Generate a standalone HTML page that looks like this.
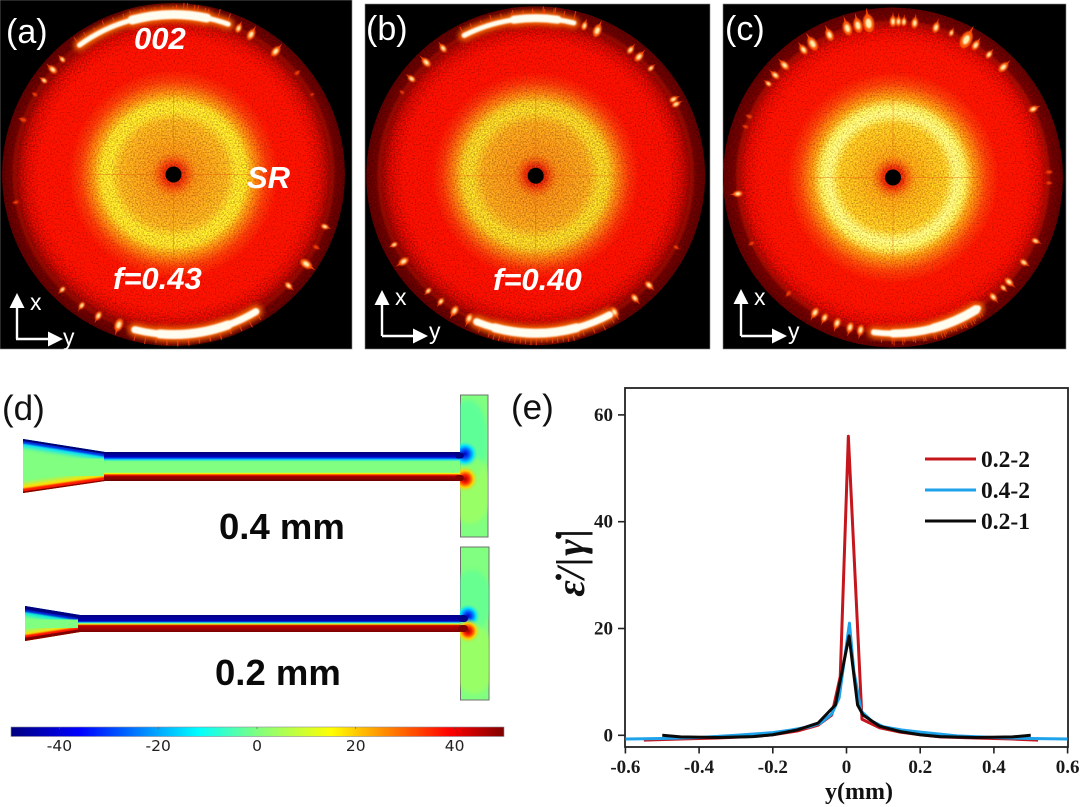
<!DOCTYPE html>
<html lang="en">
<head>
<meta charset="utf-8">
<title>Diffraction patterns and extension-rate chart</title>
<style>
html,body{margin:0;padding:0;background:#fff;}
svg{display:block;}
.lbl{font-family:"Liberation Sans",sans-serif;fill:#fff;}
.big{font-family:"Liberation Sans",sans-serif;font-size:34px;fill:#111;}
.note{font-family:"Liberation Sans",sans-serif;font-size:31px;font-weight:bold;font-style:italic;fill:#fff;}
.mm{font-family:"Liberation Sans",sans-serif;font-size:36.5px;font-weight:bold;fill:#0a0a0a;}
.cb{font-family:"DejaVu Sans",sans-serif;font-size:15.5px;fill:#222;text-anchor:middle;}
.tk{font-family:"Liberation Serif",serif;font-size:19px;font-weight:bold;fill:#1a1a1a;}
.leg{font-family:"Liberation Serif",serif;font-size:23.5px;font-weight:bold;fill:#111;}
</style>
</head>
<body>
<svg id="fig" width="1080" height="807" viewBox="0 0 1080 807" xmlns="http://www.w3.org/2000/svg">
<defs>
<radialGradient id="disc-a">
<stop offset="0" stop-color="#c02000"/><stop offset=".06" stop-color="#e03008"/><stop offset=".09" stop-color="#f05c0c"/><stop offset=".13" stop-color="#f08a14"/><stop offset=".22" stop-color="#f09a18"/><stop offset=".31" stop-color="#f2a81c"/><stop offset=".37" stop-color="#f6d428"/><stop offset=".42" stop-color="#f6d024"/><stop offset=".47" stop-color="#f88a10"/><stop offset=".54" stop-color="#fa3806"/><stop offset=".61" stop-color="#fb1200"/><stop offset=".78" stop-color="#f61000"/><stop offset=".86" stop-color="#cc0a00"/><stop offset=".9" stop-color="#a00600"/><stop offset=".93" stop-color="#700000"/><stop offset="1" stop-color="#580000"/>
</radialGradient>
<radialGradient id="disc-b">
<stop offset="0" stop-color="#c02000"/><stop offset=".06" stop-color="#d82808"/><stop offset=".09" stop-color="#e85a0c"/><stop offset=".13" stop-color="#ec8414"/><stop offset=".22" stop-color="#ec9018"/><stop offset=".31" stop-color="#ee9c1a"/><stop offset=".38" stop-color="#eec824"/><stop offset=".43" stop-color="#ecbe20"/><stop offset=".48" stop-color="#f47c10"/><stop offset=".55" stop-color="#f63006"/><stop offset=".61" stop-color="#f81000"/><stop offset=".78" stop-color="#f00e00"/><stop offset=".86" stop-color="#c40800"/><stop offset=".9" stop-color="#980400"/><stop offset=".93" stop-color="#6c0000"/><stop offset="1" stop-color="#580000"/>
</radialGradient>
<radialGradient id="disc-c">
<stop offset="0" stop-color="#c02000"/><stop offset=".06" stop-color="#e02c08"/><stop offset=".09" stop-color="#f0680c"/><stop offset=".13" stop-color="#f49a14"/><stop offset=".22" stop-color="#f6ae18"/><stop offset=".31" stop-color="#f8bc20"/><stop offset=".375" stop-color="#fff078"/><stop offset=".42" stop-color="#fce458"/><stop offset=".47" stop-color="#fa9612"/><stop offset=".55" stop-color="#fc3c06"/><stop offset=".62" stop-color="#fc1400"/><stop offset=".78" stop-color="#f81000"/><stop offset=".86" stop-color="#d40a00"/><stop offset=".9" stop-color="#a80500"/><stop offset=".93" stop-color="#700000"/><stop offset="1" stop-color="#5a0000"/>
</radialGradient>
<filter id="grain" x="0" y="0" width="100%" height="100%" color-interpolation-filters="sRGB">
<feTurbulence type="fractalNoise" baseFrequency="0.65" numOctaves="2" seed="4" result="n"/>
<feColorMatrix in="n" type="matrix" values="0 1.5 0 0 -0.25  0 1.5 0 0 -0.25  0 1.5 0 0 -0.25  0 0 0 0 1" result="g"/>
<feComposite in="SourceGraphic" in2="g" operator="arithmetic" k1="0.62" k2="0.72" k3="0" k4="0" result="mix"/>
<feComposite in="mix" in2="SourceAlpha" operator="in"/>
</filter>
<filter id="soft" x="-40%" y="-40%" width="180%" height="180%" color-interpolation-filters="sRGB"><feGaussianBlur stdDeviation="0.8"/></filter>
<filter id="glow" x="-30%" y="-30%" width="160%" height="160%" color-interpolation-filters="sRGB"><feGaussianBlur stdDeviation="2.6"/></filter>
<filter id="edge" x="-40%" y="-40%" width="180%" height="180%" color-interpolation-filters="sRGB"><feGaussianBlur stdDeviation="2"/></filter>

<linearGradient id="jet" x1="0" x2="1" y1="0" y2="0">
<stop offset="0" stop-color="#00007f"/><stop offset=".14" stop-color="#0000ff"/><stop offset=".38" stop-color="#00ffff"/><stop offset=".5" stop-color="#80ff80"/><stop offset=".65" stop-color="#ffff00"/><stop offset=".89" stop-color="#ff0000"/><stop offset="1" stop-color="#7f0000"/>
</linearGradient>
<linearGradient id="ch-wide" x1="0" x2="0" y1="0" y2="1">
<stop offset="0" stop-color="#000070"/><stop offset=".17" stop-color="#0000c0"/><stop offset=".22" stop-color="#0060ff"/><stop offset=".27" stop-color="#20e8e0"/><stop offset=".33" stop-color="#80ff80"/><stop offset=".7" stop-color="#80ff80"/><stop offset=".745" stop-color="#ffff00"/><stop offset=".79" stop-color="#ff2000"/><stop offset=".84" stop-color="#a00000"/><stop offset="1" stop-color="#6c0000"/>
</linearGradient>
<linearGradient id="ch-narrow" x1="0" x2="0" y1="0" y2="1">
<stop offset="0" stop-color="#000088"/><stop offset=".36" stop-color="#0000b0"/><stop offset=".42" stop-color="#0090ff"/><stop offset=".47" stop-color="#60f0b0"/><stop offset=".52" stop-color="#c0ff40"/><stop offset=".56" stop-color="#ffb000"/><stop offset=".62" stop-color="#c00000"/><stop offset="1" stop-color="#7c0000"/>
</linearGradient>
<radialGradient id="blob-blue"><stop offset="0" stop-color="#0000c0"/><stop offset=".3" stop-color="#0050ff"/><stop offset=".6" stop-color="#00e0ff"/><stop offset="1" stop-color="#80ff80" stop-opacity="0"/></radialGradient>
<radialGradient id="blob-red"><stop offset="0" stop-color="#a00000"/><stop offset=".3" stop-color="#ff2000"/><stop offset=".6" stop-color="#ffd000"/><stop offset="1" stop-color="#80ff80" stop-opacity="0"/></radialGradient>
<clipPath id="funnel-top"><polygon points="23,439 105,452 105,481 23,493"/></clipPath>
<clipPath id="funnel-bot"><polygon points="25,606 80,615 80,632 25,641"/></clipPath>
<clipPath id="t-top"><rect x="460" y="395" width="28" height="142"/></clipPath>
<clipPath id="t-bot"><rect x="460" y="547" width="29" height="153"/></clipPath>
</defs>

<!-- Diffraction panels -->
<g>
<rect x="0" y="0" width="352" height="349" fill="#000" stroke="#888" stroke-width="0.6"/>
<g id="art-a"></g>
<text class="lbl" x="6" y="43" font-size="34">(a)</text>
<text class="note" x="134" y="49">002</text>
<text class="note" x="247" y="188">SR</text>
<text class="note" x="113" y="289">f=0.43</text>
<g fill="#fff" stroke="none">
<path d="M17,339V306M16,339H50" stroke="#fff" stroke-width="2.4" fill="none"/>
<polygon points="17,293 9.5,308 24.5,308"/><polygon points="63,339 48,331.5 48,346.5"/>
<text class="lbl" x="30" y="310" font-size="23">x</text><text class="lbl" x="63" y="345" font-size="23">y</text>
</g>
</g>
<g>
<rect x="365" y="4" width="345" height="345" fill="#000" stroke="#888" stroke-width="0.6"/>
<g id="art-b"></g>
<text class="lbl" x="366" y="40" font-size="34">(b)</text>
<text class="note" x="493" y="290">f=0.40</text>
<g fill="#fff" stroke="none">
<path d="M382,336V304M382,336H415" stroke="#fff" stroke-width="2.4" fill="none"/>
<polygon points="382,290 374.5,305 389.5,305"/><polygon points="428,336 413,328.5 413,343.5"/>
<text class="lbl" x="395" y="305" font-size="23">x</text><text class="lbl" x="429" y="339" font-size="23">y</text>
</g>
</g>
<g>
<rect x="723" y="4" width="343" height="345" fill="#000" stroke="#888" stroke-width="0.6"/>
<g id="art-c"></g>
<text class="lbl" x="725" y="40" font-size="34">(c)</text>
<g fill="#fff" stroke="none">
<path d="M741,336V304M741,336H774" stroke="#fff" stroke-width="2.4" fill="none"/>
<polygon points="741,289 733.5,304 748.5,304"/><polygon points="787,336 772,328.5 772,343.5"/>
<text class="lbl" x="754" y="305" font-size="23">x</text><text class="lbl" x="788" y="339" font-size="23">y</text>
</g>
</g>

<!-- Panel d: simulation contours -->
<text class="big" x="2" y="420" style="font-size:35px">(d)</text>
<g>
<g clip-path="url(#funnel-top)">
<rect x="20" y="435" width="90" height="62" fill="#80ff80"/>
<line x1="20" y1="438.5" x2="108" y2="452.5" stroke="#00e0ff" stroke-width="16" filter="url(#edge)"/>
<line x1="20" y1="438.5" x2="108" y2="452.5" stroke="#0030e0" stroke-width="9" filter="url(#soft)"/>
<line x1="20" y1="438.5" x2="108" y2="452.5" stroke="#000070" stroke-width="4"/>
<line x1="20" y1="493.5" x2="108" y2="481" stroke="#ffe000" stroke-width="18" filter="url(#edge)"/>
<line x1="20" y1="493.5" x2="108" y2="481" stroke="#ff1800" stroke-width="9" filter="url(#soft)"/>
<line x1="20" y1="493.5" x2="108" y2="481" stroke="#800000" stroke-width="3"/>
</g>
<rect x="104" y="452" width="358" height="29" fill="url(#ch-wide)"/>
<rect x="460.5" y="395" width="27.5" height="142" fill="#80ff80" stroke="#707070"/>
<g clip-path="url(#t-top)">
<ellipse cx="468" cy="440" rx="20" ry="40" fill="#40ffb0" opacity=".5" filter="url(#edge)"/>
<ellipse cx="470" cy="490" rx="22" ry="34" fill="#b0ff50" opacity=".5" filter="url(#edge)"/>
<circle cx="465" cy="454" r="14" fill="url(#blob-blue)"/>
<circle cx="465" cy="479" r="14" fill="url(#blob-red)"/>
</g>
<rect x="455" y="452.5" width="9" height="6" rx="3" fill="#000088"/>
<rect x="455" y="475" width="9" height="6" rx="3" fill="#800000"/>
</g>
<text class="mm" x="219" y="539">0.4 mm</text>

<g>
<g clip-path="url(#funnel-bot)">
<rect x="22" y="602" width="60" height="42" fill="#80ff80"/>
<line x1="20" y1="605.5" x2="82" y2="615.5" stroke="#00e8e8" stroke-width="18" filter="url(#edge)"/>
<line x1="20" y1="605.5" x2="82" y2="615.5" stroke="#0020d0" stroke-width="11" filter="url(#soft)"/>
<line x1="20" y1="605.5" x2="82" y2="615.5" stroke="#000080" stroke-width="6"/>
<line x1="20" y1="641.5" x2="82" y2="632" stroke="#ffe000" stroke-width="18" filter="url(#edge)"/>
<line x1="20" y1="641.5" x2="82" y2="632" stroke="#ff1000" stroke-width="11" filter="url(#soft)"/>
<line x1="20" y1="641.5" x2="82" y2="632" stroke="#800000" stroke-width="6"/>
</g>
<rect x="78" y="615" width="385" height="17" fill="url(#ch-narrow)"/>
<rect x="460.5" y="547" width="28.5" height="153" fill="#80ff80" stroke="#707070"/>
<g clip-path="url(#t-bot)">
<ellipse cx="472" cy="600" rx="20" ry="30" fill="#50ffa0" opacity=".5" filter="url(#edge)"/>
<ellipse cx="474" cy="660" rx="22" ry="34" fill="#b0ff50" opacity=".5" filter="url(#edge)"/>
<circle cx="468" cy="616" r="13" fill="url(#blob-blue)"/>
<circle cx="468" cy="631" r="13" fill="url(#blob-red)"/>
</g>
<rect x="458" y="615" width="10" height="7" rx="3.5" fill="#000088"/>
<rect x="458" y="625" width="10" height="7" rx="3.5" fill="#800000"/>
</g>
<text class="mm" x="215" y="685">0.2 mm</text>

<g id="colorbar">
<rect x="11" y="727" width="493" height="9.5" fill="url(#jet)" stroke="#8a8a9a" stroke-width="0.6"/>
</g>

<!-- Panel e: chart -->
<text class="big" x="511" y="419" style="font-size:35px">(e)</text>
<g id="chart"></g>
<text id="ytitle" transform="translate(584,562) rotate(-90)" text-anchor="middle" style="font-family:'Liberation Serif',serif;font-size:40px;font-style:italic;font-weight:bold;fill:#111;letter-spacing:1.5px;">ε̇/|γ̇|</text>
<text x="859" y="799" text-anchor="middle" style="font-family:'Liberation Serif',serif;font-size:24px;font-weight:bold;fill:#111;">y(mm)</text>
</svg>

<script>
// ---- Chart data ----
const xTickValues = [-0.6,-0.4,-0.2,0,0.2,0.4,0.6];
const xTickLabels = ['-0.6','-0.4','-0.2','0','0.2','0.4','0.6'];
const yTickValues = [0,20,40,60];
const yTickLabels = ['0','20','40','60'];
const seriesNames = ['0.2-2','0.4-2','0.2-1'];
const redX = [-0.55,-0.45,-0.35,-0.25,-0.2,-0.134,-0.077,-0.04,-0.017,0.005,0.042,0.09,0.146,0.2,0.254,0.35,0.45,0.52];
const redY = [-0.9,-0.7,-0.5,-0.2,0.1,0.8,1.9,3.8,11,56,3,1.4,0.6,0.1,-0.3,-0.5,-0.7,-0.9];
const blueX = [-0.6,-0.5,-0.4,-0.3,-0.2,-0.15,-0.1,-0.07,-0.04,-0.02,0,0.008,0.02,0.04,0.07,0.1,0.15,0.2,0.3,0.4,0.5,0.6];
const blueY = [-0.7,-0.6,-0.4,0,0.5,1,1.6,2.3,4,7,17,21,12,4.5,2.6,1.6,1,0.6,-0.1,-0.4,-0.6,-0.7];
const blackX = [-0.5,-0.45,-0.35,-0.254,-0.2,-0.134,-0.077,-0.03,0.007,0.03,0.045,0.09,0.146,0.2,0.254,0.35,0.45,0.5];
const blackY = [0,-0.3,-0.4,-0.25,0.1,1,2.3,5.7,18.6,5.7,3.8,1.7,0.7,0.1,-0.25,-0.4,-0.3,0];
const colorbarTicks = [-40,-20,0,20,40];

const SVGNS = 'http://www.w3.org/2000/svg';
function mk(tag, attrs, parent){
  const e = document.createElementNS(SVGNS, tag);
  for (const k in attrs) e.setAttribute(k, attrs[k]);
  if (parent) parent.appendChild(e);
  return e;
}

// Colorbar ticks
const cbar = document.getElementById('colorbar');
const cbScale = v => 257 + v * 4.94;
colorbarTicks.forEach(v => {
  const t = mk('line', {x1:cbScale(v), x2:cbScale(v), y1:727, y2:729, stroke:'#555', 'stroke-width':0.6}, cbar);
  
  
  const l = mk('text', {x:cbScale(v), y:751, class:'cb'}, cbar);
  
  
  l.textContent = v;
});

// Chart
const chart = document.getElementById('chart');
const plot = {l:625, r:1068, t:388, b:747};
const xS = v => 846.5 + v * 368.5;
const yS = v => 735.3 - v * 5.34;
const frame = mk('rect', {x:plot.l, y:plot.t, width:plot.r-plot.l, height:plot.b-plot.t, fill:'none', stroke:'#222', 'stroke-width':1.8}, chart);


xTickValues.forEach((v,i) => {
  const t = mk('line', {x1:xS(v), x2:xS(v), y1:plot.b, y2:plot.b+6.5, stroke:'#222', 'stroke-width':1.6}, chart);
  
  
  const l = mk('text', {x:xS(v), y:773, class:'tk', 'text-anchor':'middle'}, chart);
  
  
  l.textContent = xTickLabels[i];
});
yTickValues.forEach((v,i) => {
  const t = mk('line', {x1:plot.l-7, x2:plot.l, y1:yS(v), y2:yS(v), stroke:'#222', 'stroke-width':1.6}, chart);
  
  
  const l = mk('text', {x:613, y:yS(v)+6, class:'tk', 'text-anchor':'end'}, chart);
  
  
  l.textContent = yTickLabels[i];
});
function linePath(xs, ys){
  return xs.map((x,i) => (i?'L':'M') + xS(x).toFixed(2) + ',' + yS(ys[i]).toFixed(2)).join(' ');
}
const redLine = mk('path', {d:linePath(redX,redY), fill:'none', stroke:'#c4161c', 'stroke-width':3, 'stroke-linejoin':'round'}, chart);


const blueLine = mk('path', {d:linePath(blueX,blueY), fill:'none', stroke:'#1ea2ea', 'stroke-width':3, 'stroke-linejoin':'round'}, chart);


const blackLine = mk('path', {d:linePath(blackX,blackY), fill:'none', stroke:'#0a0a0a', 'stroke-width':3, 'stroke-linejoin':'round'}, chart);


const legendColors = ['#c4161c','#1ea2ea','#0a0a0a'];
seriesNames.forEach((n,i) => {
  const ly = 459 + i * 31;
  const s = mk('line', {x1:925, x2:976, y1:ly, y2:ly, stroke:legendColors[i], 'stroke-width':3}, chart);
  
  
  const t = mk('text', {x:981, y:ly+8, class:'leg'}, chart);
  
  
  t.textContent = n;
});

// Diffraction panels: [angle clockwise from top, spot size]
const panelSpots = {
  a:[[39.7,3.2],[29,3.2],[24,2.6],[50.6,1.5],[60,1],[-70,1.8],[-49,2.8],[-54,2],[-44,2],[109,2.2],[124,3.6],[134,2.4],[117,1.6],[224,2],[215,2.2],[208,2.6],[200,3.6],[260,1.4],[-60,1.4]],
  b:[[23,3.6],[18,2.5],[37,2.5],[41,3],[47,2],[61,2.4],[63,2.4],[-36,2.6],[-44,3],[-52,2.4],[-58,1.2],[237,3],[244,2],[223,2],[217,2.2],[211,3],[117,1.4],[134,2.6],[141,2.6],[150,3],[205,3]],
  c:[[-9,5],[-13,4],[-17,4],[-24,3.4],[-31,4],[-35,3],[-44,3],[-49,2.6],[-53,2],[0,3],[2,2.6],[8,3],[4,2.4],[16,3],[22,2],[28,5],[32,3],[38,2.4],[45,3.2],[64,2.6],[264,2.6],[-67,1.6],[-71,1.4],[114,2.2],[123,2.4],[132,2.8],[135,2],[140,2.6],[210,3],[222,1.6],[245,1.4],[192,3],[196,3],[201,3],[206,2.6],[88,1.6],[92,1.4]]
};
// [start angle, end angle, stroke width]
const panelArcs = {
  a:[[-36,20,5],[-15,12,9],[149,194,7],[160,185,9]],
  b:[[-27,14,5],[-8,8,8],[152,202,7],[165,195,9]],
  c:[[147,187,6],[150,180,8],[148,165,9]]
};
const panelGeom = {
  a:{cx:173.5,cy:174.5,R:171.5,r:160},
  b:{cx:535.7,cy:175.7,R:169.5,r:157.5},
  c:{cx:893,cy:177.5,R:170,r:156}
};
function pol(g,a,r){
  const t = a*Math.PI/180;
  return [g.cx + r*Math.sin(t), g.cy - r*Math.cos(t)];
}
function arcD(g,a0,a1,r){
  const p0 = pol(g,a0,r), p1 = pol(g,a1,r);
  return 'M'+p0[0].toFixed(1)+','+p0[1].toFixed(1)+' A'+r+','+r+' 0 '+((a1-a0)>180?1:0)+' 1 '+p1[0].toFixed(1)+','+p1[1].toFixed(1);
}
['a','b','c'].forEach(k => {
  const g = panelGeom[k];
  const art = document.getElementById('art-'+k);
  const disc = mk('circle', {cx:g.cx, cy:g.cy, r:g.R, fill:'url(#disc-'+k+')', filter:'url(#grain)'}, art);
  
  
  const band = mk('circle', {cx:g.cx, cy:g.cy, r:g.r-1, fill:'none', stroke:'#b01400', 'stroke-width':4, opacity:.45, filter:'url(#soft)'}, art);
  
  
  const ch = mk('path', {d:'M'+(g.cx-88)+','+g.cy+'H'+(g.cx+88)+'M'+g.cx+','+(g.cy-88)+'V'+(g.cy+88), stroke:'#e85a10', 'stroke-width':1, opacity:.4, fill:'none'}, art);
  
  
  const glowG = mk('g', {filter:'url(#glow)', fill:'none'}, art);
  panelArcs[k].forEach(a => {
    mk('path', {d:arcD(g,a[0],a[1],g.r), stroke:'#ff6a00', 'stroke-width':a[2]+6, 'stroke-linecap':'round'}, glowG);
  });
  // fine radial streaks beside the bright arcs
  const streaks = mk('g', {stroke:'#ff4a08', 'stroke-width':1.1, opacity:.7}, art);
  panelArcs[k].forEach(a => {
    for (let d=a[0]; d<=a[1]; d+=3.7){
      const p0 = pol(g,d,g.r), p1 = pol(g,d,g.r+6+((Math.round(d*3)%3)+3)*1.2);
      mk('line', {x1:p0[0],y1:p0[1],x2:p1[0],y2:p1[1]}, streaks);
    }
  });
  panelSpots[k].forEach(s => {
    const c = pol(g,s[0],g.r);
    const tip = pol(g,s[0],g.r+s[1]*3.2);
    const base = pol(g,s[0],g.r-s[1]*0.8);
    const side = pol(g,s[0]+90,s[1]*0.8);
    const dx = side[0]-g.cx, dy = side[1]-g.cy;
    const st = mk('polygon', {points:tip[0]+','+tip[1]+' '+(base[0]+dx)+','+(base[1]+dy)+' '+(base[0]-dx)+','+(base[1]-dy), fill:s[1]>=2?'#e83a04':'#c82400'}, art);
    
    
    const rot = 'rotate('+s[0]+' '+c[0]+' '+c[1]+')';
    const halo = mk('ellipse', {cx:c[0], cy:c[1], rx:s[1]*1.1, ry:s[1]*1.8, transform:rot, fill:s[1]>=2?'#ff5a08':'#f03c08', filter:'url(#soft)'}, art);
    
    
    if (s[1]>=2){
      const core = mk('ellipse', {cx:c[0], cy:c[1], rx:s[1]*0.6, ry:s[1]*1.0, transform:rot, fill:'#fff0b0', filter:'url(#soft)'}, art);
      
      
    }
  });
  const core = mk('g', {filter:'url(#soft)', fill:'none'}, art);
  panelArcs[k].forEach(a => {
    mk('path', {d:arcD(g,a[0],a[1],g.r), stroke:'#fffdf0', 'stroke-width':a[2], 'stroke-linecap':'round'}, core);
  });
  const hole = mk('circle', {cx:g.cx, cy:g.cy, r:8, fill:'#000'}, art);
  
  
});
</script>
</body>
</html>
